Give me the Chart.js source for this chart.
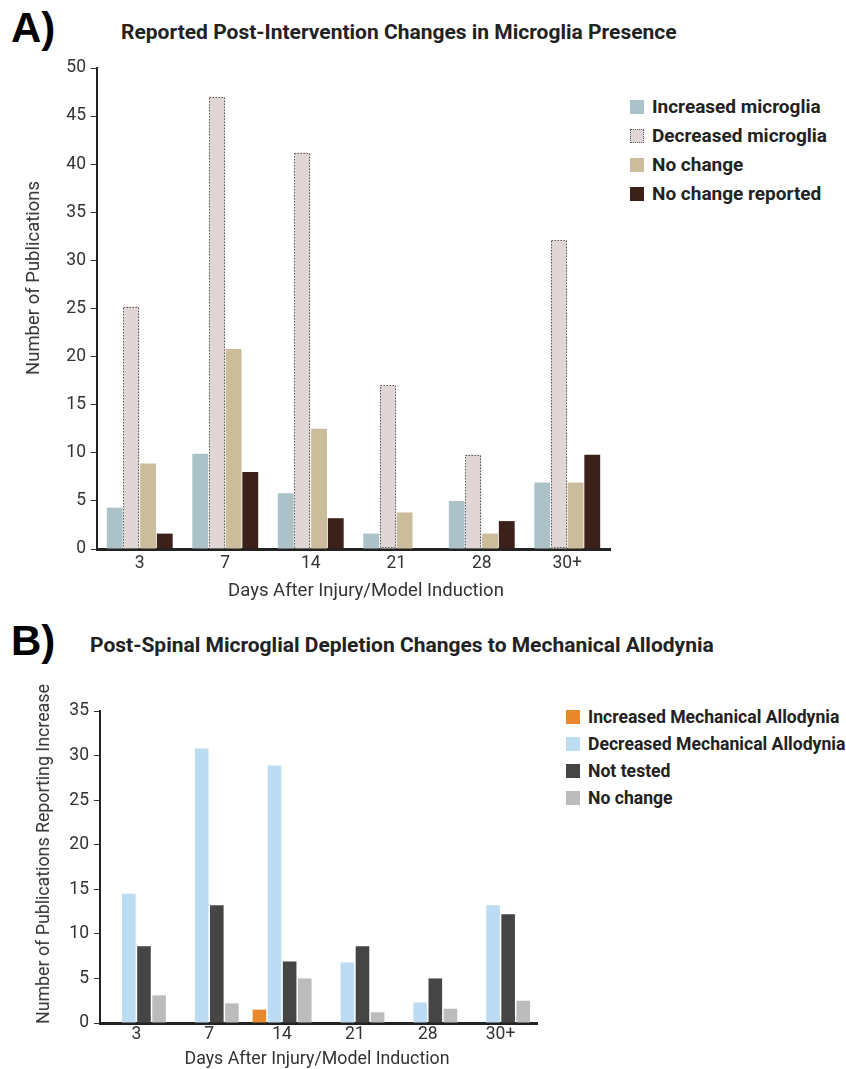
<!DOCTYPE html>
<html>
<head>
<meta charset="utf-8">
<script src="https://cdn.jsdelivr.net/npm/chart.js@4.4.1/dist/chart.umd.min.js"></script>
<style>
  body { margin: 0; width: 846px; height: 1069px; background: #fff; position: relative; overflow: hidden; font-family: Roboto, sans-serif; color: #222; }
  .abs { position: absolute; }
  .panel { font-family: "Liberation Sans", Arial, sans-serif; font-weight: bold; font-size: 42px; line-height: 42px; color: #000; }
  .title { font-weight: bold; font-size: 21px; line-height: 24px; color: #222; white-space: nowrap; }
  .axtitle { line-height: 20px; color: #333; white-space: nowrap; }
  .ytitle { transform: translate(-50%, -50%) rotate(-90deg); }
  .xtitle { transform: translate(-50%, -50%); }
  .legend { white-space: nowrap; }
  .legend .row { display: flex; align-items: center; font-weight: bold; color: #222; }
  .legend .sw { width: 14px; height: 14px; margin-right: 8px; box-sizing: border-box; flex: none; }
  canvas { position: absolute; left: 0; }
</style>
</head>
<body>
<div class="abs panel" style="left:11px; top:7px;">A)</div>
<div class="abs title" style="left:121px; top:20px;">Reported Post-Intervention Changes in Microglia Presence</div>
<canvas id="chartA" width="620" height="560" style="top:50px;"></canvas>
<div class="abs axtitle ytitle" style="left:33px; top:278px; font-size:18.5px;">Number of Publications</div>
<div class="abs axtitle xtitle" style="left:366px; top:590px; font-size:18.5px;">Days After Injury/Model Induction</div>
<div class="abs legend" id="legendA" style="left:630px; top:92px; font-size:19px;"></div>

<div class="abs panel" style="left:11px; top:620px;">B)</div>
<div class="abs title" style="left:90px; top:633px;">Post-Spinal Microglial Depletion Changes to Mechanical Allodynia</div>
<canvas id="chartB" width="560" height="404" style="top:665px;"></canvas>
<div class="abs axtitle ytitle" style="left:43px; top:854px; font-size:17.8px;">Number of Publications Reporting Increase</div>
<div class="abs axtitle xtitle" style="left:317px; top:1058px; font-size:17.8px;">Days After Injury/Model Induction</div>
<div class="abs legend" id="legendB" style="left:566px; top:703px; font-size:17.6px;"></div>

<script>
// ---------- Data ----------
var days = ['3', '7', '14', '21', '28', '30+'];

// Panel A: microglia presence
var incMicroglia = [4.3, 9.9, 5.8, 1.6, 5.0, 6.9];
var decMicroglia = [25.2, 47, 41.2, 17, 9.8, 32.1];
var noChangeA = [8.9, 20.8, 12.5, 3.8, 1.6, 6.9];
var noChangeReported = [1.6, 8.0, 3.2, 0, 2.9, 9.8];

// Panel B: mechanical allodynia
var incAllodynia = [0, 0, 1.5, 0, 0, 0];
var decAllodynia = [14.5, 30.8, 28.9, 6.8, 2.3, 13.2];
var notTested = [8.6, 13.2, 6.9, 8.6, 5.0, 12.2];
var noChangeB = [3.1, 2.2, 5.0, 1.2, 1.6, 2.5];

var tickFont = { family: 'Roboto', size: 17.5 };

// dotted outline for datasets flagged with `dotted`
var dottedBorder = {
  id: 'dottedBorder',
  afterDatasetsDraw: function (chart) {
    var ctx = chart.ctx;
    chart.data.datasets.forEach(function (ds, i) {
      if (!ds.dotted) return;
      chart.getDatasetMeta(i).data.forEach(function (bar) {
        var p = bar.getProps(['x', 'y', 'base', 'width'], true);
        ctx.save();
        ctx.setLineDash([1.5, 1.5]);
        ctx.strokeStyle = '#5a5a5a';
        ctx.lineWidth = 1;
        ctx.strokeRect(Math.round(p.x - p.width / 2) + 0.5, Math.round(p.y) + 0.5, Math.round(p.width) - 1, Math.round(p.base - p.y) - 1);
        ctx.restore();
      });
    });
  }
};

function axes(yMax, yWidth, xHeight, xPad) {
  return {
    x: {
      grid: { drawOnChartArea: false, drawTicks: false, color: '#222' },
      border: { color: '#222', width: 3 },
      ticks: { color: '#333', font: tickFont, padding: xPad },
      afterFit: function (s) { s.height = xHeight; }
    },
    y: {
      min: 0, max: yMax,
      ticks: { stepSize: 5, color: '#333', font: tickFont, padding: 5 },
      grid: { drawOnChartArea: false, tickLength: 6, color: '#333' },
      border: { color: '#222', width: 2 },
      afterFit: function (s) { s.width = yWidth; }
    }
  };
}

function buildLegend(chart, el, rowH) {
  var html = '';
  chart.data.datasets.forEach(function (ds) {
    var border = ds.dotted ? 'border:1px dotted #5a5a5a;' : '';
    html += '<div class="row" style="height:' + rowH + 'px"><div class="sw" style="background:' + ds.backgroundColor + ';' + border + '"></div><span>' + ds.label + '</span></div>';
  });
  el.innerHTML = html;
}

// ---------- Chart A ----------
var chartA = new Chart(document.getElementById('chartA'), {
  type: 'bar',
  data: {
    labels: days,
    datasets: [
      { label: 'Increased microglia', data: incMicroglia, backgroundColor: '#abc3c8' },
      { label: 'Decreased microglia', data: decMicroglia, backgroundColor: '#e0d6d5', dotted: true },
      { label: 'No change', data: noChangeA, backgroundColor: '#cbbd9c' },
      { label: 'No change reported', data: noChangeReported, backgroundColor: '#3b2119' }
    ]
  },
  options: {
    responsive: false, animation: false,
    layout: { padding: { left: 19, top: 18, right: 10, bottom: 6 } },
    plugins: { legend: { display: false }, tooltip: { enabled: false } },
    datasets: { bar: { categoryPercentage: 0.78, barPercentage: 0.95 } },
    scales: axes(50, 78, 55, 4)
  },
  plugins: [dottedBorder]
});
buildLegend(chartA, document.getElementById('legendA'), 29);

// ---------- Chart B ----------
var chartB = new Chart(document.getElementById('chartB'), {
  type: 'bar',
  data: {
    labels: days,
    datasets: [
      { label: 'Increased Mechanical Allodynia', data: incAllodynia, backgroundColor: '#e8892e' },
      { label: 'Decreased Mechanical Allodynia', data: decAllodynia, backgroundColor: '#bcdcf3' },
      { label: 'Not tested', data: notTested, backgroundColor: '#454545' },
      { label: 'No change', data: noChangeB, backgroundColor: '#bcbcbc' }
    ]
  },
  options: {
    responsive: false, animation: false,
    layout: { padding: { left: 28, top: 46, right: 23, bottom: 1 } },
    plugins: { legend: { display: false }, tooltip: { enabled: false } },
    datasets: { bar: { categoryPercentage: 0.83, barPercentage: 0.9 } },
    scales: axes(35, 72, 45, 1)
  }
});
buildLegend(chartB, document.getElementById('legendB'), 27);
</script>
</body>
</html>
